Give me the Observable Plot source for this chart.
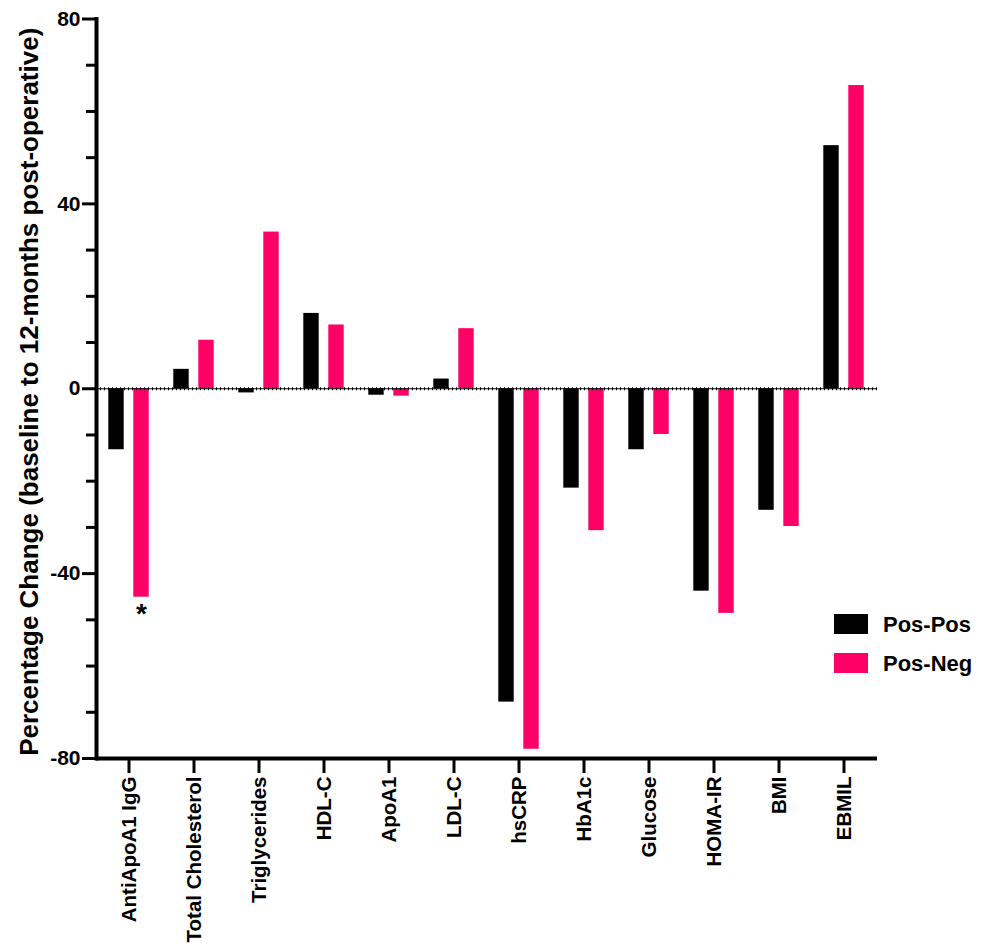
<!DOCTYPE html>
<html>
<head>
<meta charset="utf-8">
<script src="https://cdn.jsdelivr.net/npm/d3@7"></script>
<script src="https://cdn.jsdelivr.net/npm/@observablehq/plot@0.6"></script>
<style>
  html, body { margin: 0; padding: 0; background: #fff; }
  #wrap { position: relative; width: 988px; height: 946px; font-family: "Liberation Sans", Arial, Helvetica, sans-serif; }
  #legend { position: absolute; left: 834px; top: 614px; font-weight: bold; font-size: 22px; color: #000; }
  #legend .row { display: flex; align-items: center; height: 20px; margin-bottom: 19px; }
  #legend .sw { width: 34px; height: 20px; margin-right: 15px; }
  #legend span { line-height: 20px; position: relative; top: 1px; }
</style>
</head>
<body>
<div id="wrap"></div>
<script>
const categories = ["AntiApoA1 IgG", "Total Cholesterol", "Triglycerides", "HDL-C", "ApoA1", "LDL-C",
  "hsCRP", "HbA1c", "Glucose", "HOMA-IR", "BMI", "EBMIL"];
const seriesNames = ["Pos-Pos", "Pos-Neg"];
const posPos = [-13.2, 4.2, -0.9, 16.3, -1.4, 2.1, -67.8, -21.5, -13.2, -43.8, -26.3, 52.6];
const posNeg = [-45.1, 10.5, 33.9, 13.8, -1.6, 13.0, -78.0, -30.7, -9.9, -48.6, -29.8, 65.6];
const colors = ["#000000", "#FF0066"];
const majorTicks = [-80, -40, 0, 40, 80];
const minorTicks = [-70, -60, -50, -30, -20, -10, 10, 20, 30, 50, 60, 70];
const yLabel = "Percentage Change (baseline to 12-months post-operative)";
const significance = [{category: "AntiApoA1 IgG", series: "Pos-Neg", label: "*"}];

const dataPP = categories.map((c, i) => ({category: c, series: seriesNames[0], value: posPos[i]}));
const dataPN = categories.map((c, i) => ({category: c, series: seriesNames[1], value: posNeg[i]}));
const sigData = significance.map(s => {
  const src = s.series === seriesNames[0] ? dataPP : dataPN;
  return {...s, value: src.find(d => d.category === s.category).value};
});

const font = "Liberation Sans, Arial, Helvetica, sans-serif";

const chart = Plot.plot({
  width: 988,
  height: 946,
  marginLeft: 96,
  marginRight: 111,
  marginTop: 18.5,
  marginBottom: 188,
  style: {fontFamily: font, fontWeight: "bold", color: "#000", background: "#fff"},
  x: {type: "band", domain: categories, padding: 0, insetLeft: -4.3, insetRight: -2.6, label: null},
  y: {domain: [-80, 80], label: null},
  marks: [
    Plot.barY(dataPP, {x: "category", y: "value", fill: colors[0], insetLeft: 12.3, insetRight: 37.3}),
    Plot.barY(dataPN, {x: "category", y: "value", fill: colors[1], insetLeft: 37.3, insetRight: 12.3}),
    Plot.ruleY([0], {stroke: "#000", strokeWidth: 1.2}),
    Plot.ruleY([0], {stroke: "#000", strokeWidth: 3, strokeDasharray: "1 3"}),
    Plot.text(sigData, {x: "category", y: "value", text: "label", dx: 12.5, dy: 6, lineAnchor: "top", fontSize: 28, fontWeight: "bold"}),
    Plot.axisY(majorTicks, {tickSize: 14, tickPadding: 2, fontSize: 21, fontWeight: "bold", strokeWidth: 3, label: null, tickFormat: d => String(d)}),
    Plot.axisY(minorTicks, {tickSize: 10, strokeWidth: 3, text: null, label: null}),
    Plot.axisX({tickSize: 15, tickPadding: 3, tickRotate: -90, fontSize: 20.5, fontWeight: "bold", strokeWidth: 3, label: null}),
    Plot.frame({anchor: "left", strokeWidth: 4}),
    Plot.ruleY([-80], {strokeWidth: 4}),
    Plot.text([yLabel], {frameAnchor: "left", textAnchor: "middle", rotate: -90, dx: -67.3, dy: 3, fontSize: 26, fontWeight: "bold"})
  ]
});

const wrap = document.getElementById("wrap");
wrap.appendChild(chart);

const legend = document.createElement("div");
legend.id = "legend";
seriesNames.forEach((name, i) => {
  const row = document.createElement("div");
  row.className = "row";
  const sw = document.createElement("div");
  sw.className = "sw";
  sw.style.background = colors[i];
  const label = document.createElement("span");
  label.textContent = name;
  row.appendChild(sw);
  row.appendChild(label);
  legend.appendChild(row);
});
wrap.appendChild(legend);
</script>
</body>
</html>
